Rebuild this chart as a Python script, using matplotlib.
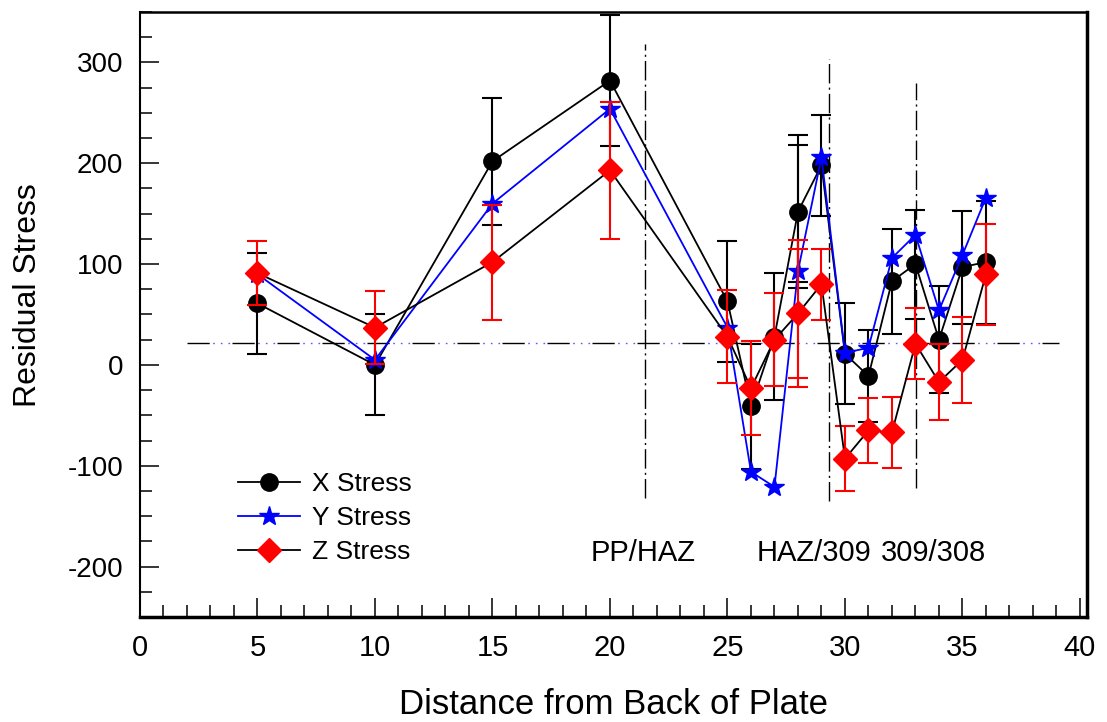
import matplotlib
matplotlib.use('Agg')
import matplotlib.pyplot as plt
from matplotlib.lines import Line2D
from matplotlib.ticker import MultipleLocator

plt.rcParams['font.family'] = ['Liberation Sans', 'DejaVu Sans']
plt.rcParams['axes.unicode_minus'] = False

# ---- data ----
distance = [5, 10, 15, 20, 25, 26, 27, 28, 29, 30, 31, 32, 33, 34, 35, 36]
x_stress = [61, 0, 202, 282, 63, -41, 28, 152, 198, 11, -11, 83, 100, 25, 97, 102]
x_err    = [50, 50, 63, 65, 60, 62, 63, 76, 50, 50, 46, 52, 54, 53, 56, 61]
y_stress = [90, 5, 160, 254, 37, -106, -121, 93, 206, 12, 17, 106, 129, 54, 109, 166]
z_stress = [91, 37, 102, 193, 28, -23, 25, 51, 80, -93, -65, -67, 21, -17, 5, 90]
z_err    = [32, 36, 57, 68, 46, 47, 46, 73, 35, 32, 32, 35, 35, 38, 43, 50]

# second (smaller) error estimate shown at 28
extra_dist = [28]
extra_x = [150]
extra_x_err = [68]
extra_z = [51]
extra_z_err = [64]

ref_level = 22
ref_span = [2, 39.1]
boundaries = [21.5, 29.3, 33.03]
boundary_top = [318, 303, 280]
boundary_bottom = [-132, -135, -122]
boundary_labels = ['PP/HAZ', 'HAZ/309', '309/308']
label_x = [21.4, 28.7, 33.75]
label_y = -194

fig = plt.figure(figsize=(11.07, 7.22), dpi=100)
ax = fig.add_axes([140/1107, 1-617/722, 947/1107, 605/722])

# reference horizontal line (black long dashes with blue dots)
ax.plot(ref_span, [ref_level, ref_level], color='black', lw=1.0,
        linestyle=(0, (16, 16.4)), zorder=1)
ax.plot(ref_span, [ref_level, ref_level], color='#5a5aff', lw=1.0,
        linestyle=(13.9, (1.2, 4.3, 1.2, 4.3, 1.2, 20.2)), zorder=1)

# boundary lines
for bx, bt, bb in zip(boundaries, boundary_top, boundary_bottom):
    ax.plot([bx, bx], [bb, bt], color='black', lw=1.0,
            linestyle=(0, (14, 3, 1.5, 3)), zorder=1)
for lx, txt in zip(label_x, boundary_labels):
    ax.text(lx, label_y, txt, ha='center', va='baseline', fontsize=21)

# X stress
ax.errorbar(distance, x_stress, yerr=x_err, fmt='none', ecolor='black',
            elinewidth=1.5, capsize=7, capthick=1.5, zorder=2)
ax.errorbar(extra_dist, extra_x, yerr=extra_x_err, fmt='none', ecolor='black',
            elinewidth=1.5, capsize=7, capthick=1.5, zorder=2)
ax.plot(distance, x_stress, color='black', lw=1.3, marker='o', ms=12.5,
        mfc='black', mec='black', zorder=3)

# Y stress
ax.plot(distance, y_stress, color='blue', lw=1.3, marker='*', ms=15,
        mfc='blue', mec='blue', zorder=4)

# Z stress
ax.errorbar(distance, z_stress, yerr=z_err, fmt='none', ecolor='red',
            elinewidth=1.5, capsize=7, capthick=1.5, zorder=5)
ax.errorbar(extra_dist, extra_z, yerr=extra_z_err, fmt='none', ecolor='red',
            elinewidth=1.5, capsize=7, capthick=1.5, zorder=5)
ax.plot(distance, z_stress, color='black', lw=1.3, marker='D', ms=12,
        mfc='red', mec='red', zorder=6)

ax.set_xlim(0, 40.3)
ax.set_ylim(-250, 350)
ax.xaxis.set_major_locator(MultipleLocator(5))
ax.xaxis.set_minor_locator(MultipleLocator(1))
ax.yaxis.set_major_locator(MultipleLocator(100))
ax.yaxis.set_minor_locator(MultipleLocator(25))
ax.tick_params(axis='both', which='both', direction='in', top=False, right=False,
               width=1.1, color='black')
ax.tick_params(axis='both', which='major', length=14)
ax.tick_params(axis='both', which='minor', length=8.5)
ax.tick_params(axis='x', which='major', labelsize=21, pad=12)
ax.tick_params(axis='y', which='major', labelsize=20, pad=12)

for side, lw in [('left', 1.5), ('top', 1.8), ('right', 2.5), ('bottom', 2.5)]:
    ax.spines[side].set_linewidth(lw)
    ax.spines[side].set_color('black')

ax.set_xlabel('Distance from Back of Plate', fontsize=25)
ax.xaxis.set_label_coords(0.5, -(705-617)/605)
ax.xaxis.label.set_va('center')
ax.set_ylabel('Residual Stress', fontsize=23)
ax.yaxis.set_label_coords((28-140)/947, (617-295)/605)
ax.yaxis.label.set_va('center')

handles = [
    Line2D([], [], color='black', lw=1.3, marker='o', ms=12.5, mfc='black', mec='black'),
    Line2D([], [], color='blue', lw=1.3, marker='*', ms=15, mfc='blue', mec='blue'),
    Line2D([], [], color='black', lw=1.3, marker='D', ms=12, mfc='red', mec='red'),
]
ax.legend(handles, ['X Stress', 'Y Stress', 'Z Stress'], loc='upper left',
          bbox_to_anchor=(238/1107, 1-472/722), bbox_transform=fig.transFigure,
          frameon=False, fontsize=19, handlelength=2.35, handletextpad=0.45,
          labelspacing=0.38, borderpad=0, borderaxespad=0)

fig.savefig('out.png', dpi=100)
